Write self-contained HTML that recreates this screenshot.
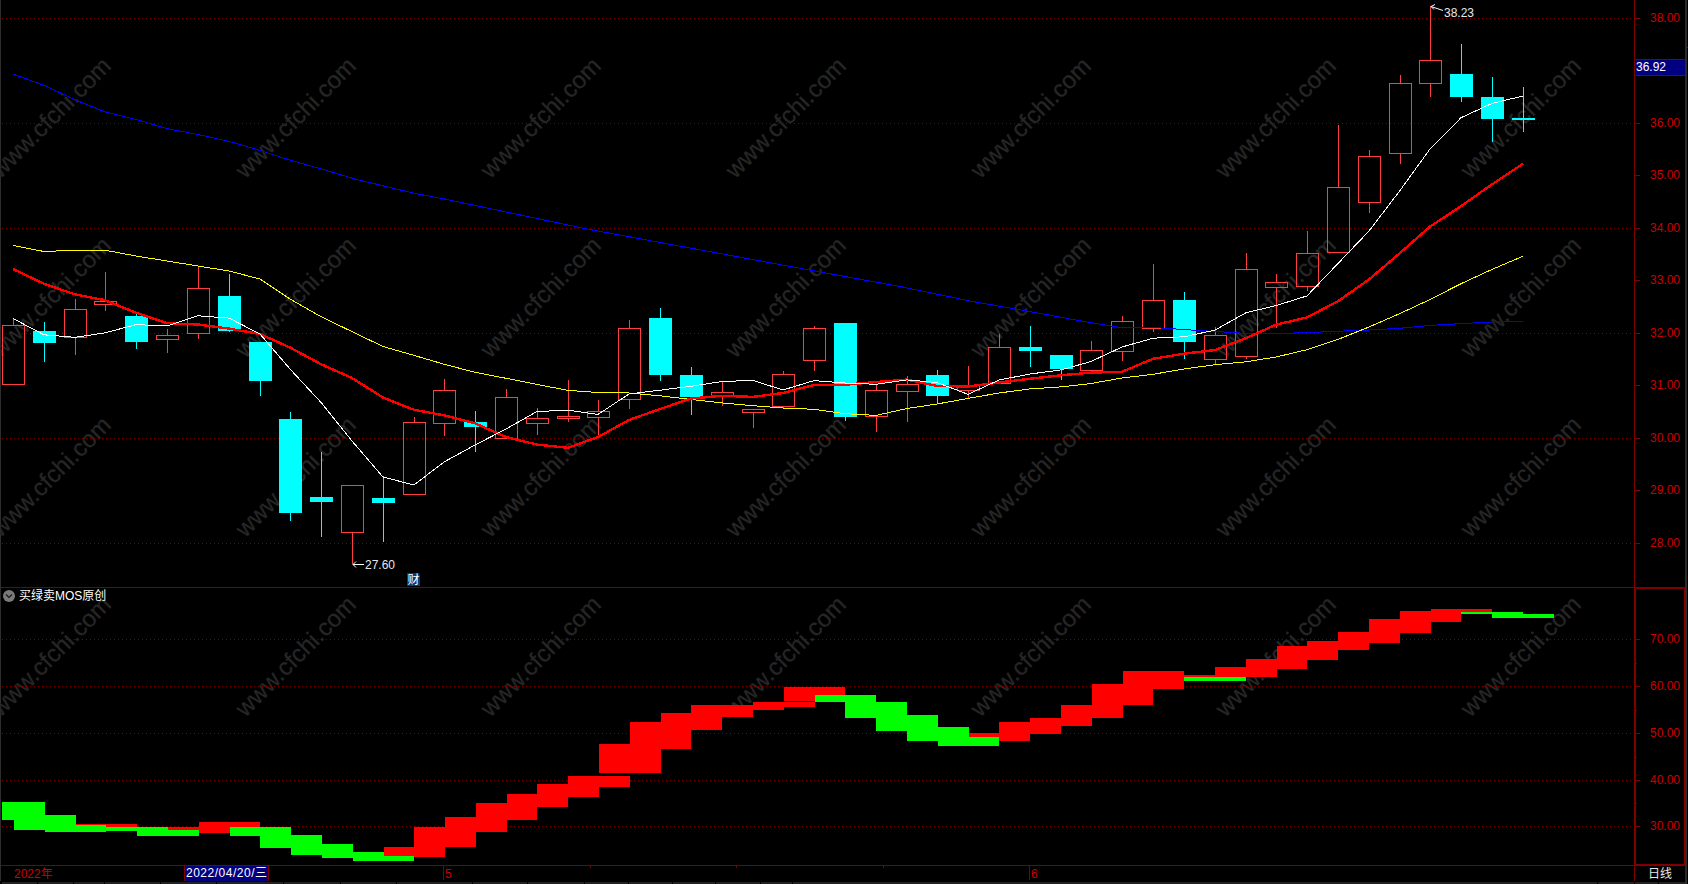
<!DOCTYPE html>
<html><head><meta charset="utf-8"><title>K线图</title>
<style>
html,body{margin:0;padding:0;background:#000;width:1688px;height:884px;overflow:hidden;}
#wrap{position:relative;width:1688px;height:884px;background:#000;overflow:hidden;}
svg{position:absolute;left:0;top:0;display:block;}
.t{font-family:"Liberation Sans","Noto Sans CJK SC",sans-serif;font-size:12px;}
</style></head><body><div id="wrap">
<svg width="1688" height="884" viewBox="0 0 1688 884">
<rect x="0" y="0" width="1" height="881" fill="#2e2e2e"/>
<rect x="1685" y="0" width="2" height="884" fill="#2a2a2a"/>
<rect x="1687" y="47" width="1" height="1" fill="#900000"/>
<g class="wm" fill="#262626" stroke="#262626" stroke-width="0.3" font-family="Liberation Sans, sans-serif" font-size="24px">
<text x="0.3" y="179.6" transform="rotate(-45 0.3 179.6)">www.cfchi.com</text>
<text x="245.3" y="179.6" transform="rotate(-45 245.3 179.6)">www.cfchi.com</text>
<text x="490.3" y="179.6" transform="rotate(-45 490.3 179.6)">www.cfchi.com</text>
<text x="735.3" y="179.6" transform="rotate(-45 735.3 179.6)">www.cfchi.com</text>
<text x="980.3" y="179.6" transform="rotate(-45 980.3 179.6)">www.cfchi.com</text>
<text x="1225.3" y="179.6" transform="rotate(-45 1225.3 179.6)">www.cfchi.com</text>
<text x="1470.3" y="179.6" transform="rotate(-45 1470.3 179.6)">www.cfchi.com</text>
<text x="0.3" y="359.1" transform="rotate(-45 0.3 359.1)">www.cfchi.com</text>
<text x="245.3" y="359.1" transform="rotate(-45 245.3 359.1)">www.cfchi.com</text>
<text x="490.3" y="359.1" transform="rotate(-45 490.3 359.1)">www.cfchi.com</text>
<text x="735.3" y="359.1" transform="rotate(-45 735.3 359.1)">www.cfchi.com</text>
<text x="980.3" y="359.1" transform="rotate(-45 980.3 359.1)">www.cfchi.com</text>
<text x="1225.3" y="359.1" transform="rotate(-45 1225.3 359.1)">www.cfchi.com</text>
<text x="1470.3" y="359.1" transform="rotate(-45 1470.3 359.1)">www.cfchi.com</text>
<text x="0.3" y="538.6" transform="rotate(-45 0.3 538.6)">www.cfchi.com</text>
<text x="245.3" y="538.6" transform="rotate(-45 245.3 538.6)">www.cfchi.com</text>
<text x="490.3" y="538.6" transform="rotate(-45 490.3 538.6)">www.cfchi.com</text>
<text x="735.3" y="538.6" transform="rotate(-45 735.3 538.6)">www.cfchi.com</text>
<text x="980.3" y="538.6" transform="rotate(-45 980.3 538.6)">www.cfchi.com</text>
<text x="1225.3" y="538.6" transform="rotate(-45 1225.3 538.6)">www.cfchi.com</text>
<text x="1470.3" y="538.6" transform="rotate(-45 1470.3 538.6)">www.cfchi.com</text>
<text x="0.3" y="718.1" transform="rotate(-45 0.3 718.1)">www.cfchi.com</text>
<text x="245.3" y="718.1" transform="rotate(-45 245.3 718.1)">www.cfchi.com</text>
<text x="490.3" y="718.1" transform="rotate(-45 490.3 718.1)">www.cfchi.com</text>
<text x="735.3" y="718.1" transform="rotate(-45 735.3 718.1)">www.cfchi.com</text>
<text x="980.3" y="718.1" transform="rotate(-45 980.3 718.1)">www.cfchi.com</text>
<text x="1225.3" y="718.1" transform="rotate(-45 1225.3 718.1)">www.cfchi.com</text>
<text x="1470.3" y="718.1" transform="rotate(-45 1470.3 718.1)">www.cfchi.com</text>
</g>
<g shape-rendering="crispEdges" stroke="#800000" stroke-width="1" stroke-dasharray="1 3">
<line x1="2" y1="18.5" x2="1633" y2="18.5"/>
<line x1="2" y1="123.5" x2="1633" y2="123.5"/>
<line x1="2" y1="228.5" x2="1633" y2="228.5"/>
<line x1="2" y1="333.5" x2="1633" y2="333.5"/>
<line x1="2" y1="438.5" x2="1633" y2="438.5"/>
<line x1="2" y1="543.5" x2="1633" y2="543.5"/>
<line x1="2" y1="639.5" x2="1633" y2="639.5"/>
<line x1="2" y1="686.5" x2="1633" y2="686.5"/>
<line x1="2" y1="733.5" x2="1633" y2="733.5"/>
<line x1="2" y1="780.5" x2="1633" y2="780.5"/>
<line x1="2" y1="826.5" x2="1633" y2="826.5"/>
</g>
<g shape-rendering="crispEdges">
<rect x="2" y="802" width="12" height="18" fill="#00ff00"/>
<rect x="14" y="802" width="31" height="28" fill="#00ff00"/>
<rect x="45" y="815" width="31" height="17" fill="#00ff00"/>
<rect x="76" y="824" width="30" height="1" fill="#ff0000"/>
<rect x="76" y="825" width="30" height="7" fill="#00ff00"/>
<rect x="106" y="824" width="31" height="3" fill="#ff0000"/>
<rect x="106" y="827" width="31" height="4" fill="#00ff00"/>
<rect x="137" y="827" width="31" height="9" fill="#00ff00"/>
<rect x="168" y="827" width="31" height="3" fill="#ff0000"/>
<rect x="168" y="830" width="31" height="6" fill="#00ff00"/>
<rect x="199" y="822" width="31" height="11" fill="#ff0000"/>
<rect x="230" y="822" width="30" height="5" fill="#ff0000"/>
<rect x="230" y="827" width="30" height="9" fill="#00ff00"/>
<rect x="260" y="827" width="31" height="21" fill="#00ff00"/>
<rect x="291" y="835" width="31" height="20" fill="#00ff00"/>
<rect x="322" y="844" width="31" height="14" fill="#00ff00"/>
<rect x="353" y="852" width="31" height="9" fill="#00ff00"/>
<rect x="384" y="847" width="30" height="9" fill="#ff0000"/>
<rect x="384" y="856" width="30" height="5" fill="#00ff00"/>
<rect x="414" y="827" width="31" height="30" fill="#ff0000"/>
<rect x="445" y="817" width="31" height="30" fill="#ff0000"/>
<rect x="476" y="803" width="31" height="29" fill="#ff0000"/>
<rect x="507" y="794" width="30" height="26" fill="#ff0000"/>
<rect x="537" y="784" width="31" height="23" fill="#ff0000"/>
<rect x="568" y="776" width="31" height="21" fill="#ff0000"/>
<rect x="599" y="744" width="31" height="29" fill="#ff0000"/>
<rect x="599" y="776" width="31" height="11" fill="#ff0000"/>
<rect x="630" y="722" width="31" height="51" fill="#ff0000"/>
<rect x="661" y="713" width="30" height="36" fill="#ff0000"/>
<rect x="691" y="705" width="31" height="25" fill="#ff0000"/>
<rect x="722" y="705" width="31" height="12" fill="#ff0000"/>
<rect x="753" y="702" width="31" height="8" fill="#ff0000"/>
<rect x="784" y="687" width="31" height="14" fill="#ff0000"/>
<rect x="784" y="702" width="31" height="5" fill="#ff0000"/>
<rect x="815" y="687" width="30" height="8" fill="#ff0000"/>
<rect x="815" y="695" width="30" height="7" fill="#00ff00"/>
<rect x="845" y="695" width="31" height="23" fill="#00ff00"/>
<rect x="876" y="702" width="31" height="29" fill="#00ff00"/>
<rect x="907" y="715" width="31" height="26" fill="#00ff00"/>
<rect x="938" y="727" width="31" height="19" fill="#00ff00"/>
<rect x="969" y="733" width="30" height="4" fill="#ff0000"/>
<rect x="969" y="737" width="30" height="9" fill="#00ff00"/>
<rect x="999" y="722" width="31" height="19" fill="#ff0000"/>
<rect x="1030" y="718" width="31" height="16" fill="#ff0000"/>
<rect x="1061" y="705" width="31" height="21" fill="#ff0000"/>
<rect x="1092" y="684" width="31" height="34" fill="#ff0000"/>
<rect x="1123" y="671" width="30" height="34" fill="#ff0000"/>
<rect x="1153" y="671" width="31" height="18" fill="#ff0000"/>
<rect x="1184" y="675" width="31" height="2" fill="#ff0000"/>
<rect x="1184" y="677" width="31" height="4" fill="#00ff00"/>
<rect x="1215" y="667" width="31" height="10" fill="#ff0000"/>
<rect x="1215" y="677" width="31" height="4" fill="#00ff00"/>
<rect x="1246" y="659" width="31" height="18" fill="#ff0000"/>
<rect x="1277" y="646" width="30" height="23" fill="#ff0000"/>
<rect x="1307" y="641" width="31" height="19" fill="#ff0000"/>
<rect x="1338" y="632" width="31" height="18" fill="#ff0000"/>
<rect x="1369" y="619" width="31" height="24" fill="#ff0000"/>
<rect x="1400" y="611" width="31" height="22" fill="#ff0000"/>
<rect x="1431" y="609" width="30" height="13" fill="#ff0000"/>
<rect x="1461" y="609" width="31" height="5" fill="#ff0000"/>
<rect x="1461" y="612" width="31" height="2" fill="#00ff00"/>
<rect x="1492" y="612" width="31" height="6" fill="#00ff00"/>
<rect x="1523" y="614" width="31" height="4" fill="#00ff00"/>
</g>
<g shape-rendering="crispEdges">
<rect x="13" y="318" width="1" height="7" fill="#ff3f3f"/>
<rect x="2.5" y="325.5" width="22" height="59" fill="none" stroke="#ff3f3f" stroke-width="1"/>
<rect x="44" y="322" width="1" height="40" fill="#00ffff"/>
<rect x="33" y="331" width="23" height="12" fill="#00ffff"/>
<rect x="75" y="299" width="1" height="10" fill="#ff3f3f"/>
<rect x="75" y="337" width="1" height="18" fill="#ff3f3f"/>
<rect x="64.5" y="309.5" width="22" height="28" fill="none" stroke="#ff3f3f" stroke-width="1"/>
<rect x="105" y="272" width="1" height="29" fill="#ff3f3f"/>
<rect x="105" y="304" width="1" height="7" fill="#ff3f3f"/>
<rect x="94.5" y="301.5" width="22" height="3" fill="none" stroke="#ff3f3f" stroke-width="1"/>
<rect x="136" y="314" width="1" height="35" fill="#00ffff"/>
<rect x="125" y="316" width="23" height="26" fill="#00ffff"/>
<rect x="167" y="329" width="1" height="6" fill="#ff3f3f"/>
<rect x="167" y="339" width="1" height="14" fill="#ff3f3f"/>
<rect x="156.5" y="335.5" width="22" height="4" fill="none" stroke="#ff3f3f" stroke-width="1"/>
<rect x="198" y="266" width="1" height="22" fill="#ff3f3f"/>
<rect x="198" y="333" width="1" height="6" fill="#ff3f3f"/>
<rect x="187.5" y="288.5" width="22" height="45" fill="none" stroke="#ff3f3f" stroke-width="1"/>
<rect x="229" y="274" width="1" height="58" fill="#00ffff"/>
<rect x="218" y="296" width="23" height="35" fill="#00ffff"/>
<rect x="260" y="342" width="1" height="54" fill="#00ffff"/>
<rect x="249" y="342" width="23" height="39" fill="#00ffff"/>
<rect x="290" y="412" width="1" height="109" fill="#00ffff"/>
<rect x="279" y="419" width="23" height="94" fill="#00ffff"/>
<rect x="321" y="452" width="1" height="85" fill="#00ffff"/>
<rect x="310" y="497" width="23" height="5" fill="#00ffff"/>
<rect x="352" y="532" width="1" height="32" fill="#ff3f3f"/>
<rect x="341.5" y="485.5" width="22" height="47" fill="none" stroke="#ff3f3f" stroke-width="1"/>
<rect x="383" y="476" width="1" height="66" fill="#00ffff"/>
<rect x="372" y="498" width="23" height="5" fill="#00ffff"/>
<rect x="414" y="417" width="1" height="5" fill="#ff3f3f"/>
<rect x="403.5" y="422.5" width="22" height="72" fill="none" stroke="#ff3f3f" stroke-width="1"/>
<rect x="444" y="379" width="1" height="11" fill="#ff3f3f"/>
<rect x="444" y="423" width="1" height="13" fill="#ff3f3f"/>
<rect x="433.5" y="390.5" width="22" height="33" fill="none" stroke="#ff3f3f" stroke-width="1"/>
<rect x="475" y="411" width="1" height="41" fill="#00ffff"/>
<rect x="464" y="422" width="23" height="5" fill="#00ffff"/>
<rect x="506" y="389" width="1" height="8" fill="#ff3f3f"/>
<rect x="495.5" y="397.5" width="22" height="41" fill="none" stroke="#ff3f3f" stroke-width="1"/>
<rect x="537" y="408" width="1" height="10" fill="#ff3f3f"/>
<rect x="537" y="423" width="1" height="12" fill="#ff3f3f"/>
<rect x="526.5" y="418.5" width="22" height="5" fill="none" stroke="#ff3f3f" stroke-width="1"/>
<rect x="568" y="380" width="1" height="36" fill="#ff3f3f"/>
<rect x="568" y="418" width="1" height="4" fill="#ff3f3f"/>
<rect x="557.5" y="416.5" width="22" height="2" fill="none" stroke="#ff3f3f" stroke-width="1"/>
<rect x="598" y="400" width="1" height="11" fill="#ff3f3f"/>
<rect x="598" y="417" width="1" height="19" fill="#ff3f3f"/>
<rect x="587.5" y="411.5" width="22" height="6" fill="none" stroke="#ff3f3f" stroke-width="1"/>
<rect x="629" y="320" width="1" height="8" fill="#ff3f3f"/>
<rect x="629" y="399" width="1" height="10" fill="#ff3f3f"/>
<rect x="618.5" y="328.5" width="22" height="71" fill="none" stroke="#ff3f3f" stroke-width="1"/>
<rect x="660" y="308" width="1" height="73" fill="#00ffff"/>
<rect x="649" y="318" width="23" height="57" fill="#00ffff"/>
<rect x="691" y="367" width="1" height="48" fill="#00ffff"/>
<rect x="680" y="375" width="23" height="22" fill="#00ffff"/>
<rect x="722" y="382" width="1" height="10" fill="#ff3f3f"/>
<rect x="722" y="395" width="1" height="11" fill="#ff3f3f"/>
<rect x="711.5" y="392.5" width="22" height="3" fill="none" stroke="#ff3f3f" stroke-width="1"/>
<rect x="753" y="412" width="1" height="16" fill="#ff3f3f"/>
<rect x="742.5" y="409.5" width="22" height="3" fill="none" stroke="#ff3f3f" stroke-width="1"/>
<rect x="783" y="371" width="1" height="3" fill="#ff3f3f"/>
<rect x="783" y="406" width="1" height="2" fill="#ff3f3f"/>
<rect x="772.5" y="374.5" width="22" height="32" fill="none" stroke="#ff3f3f" stroke-width="1"/>
<rect x="814" y="326" width="1" height="2" fill="#ff3f3f"/>
<rect x="814" y="360" width="1" height="11" fill="#ff3f3f"/>
<rect x="803.5" y="328.5" width="22" height="32" fill="none" stroke="#ff3f3f" stroke-width="1"/>
<rect x="845" y="323" width="1" height="98" fill="#00ffff"/>
<rect x="834" y="323" width="23" height="94" fill="#00ffff"/>
<rect x="876" y="384" width="1" height="6" fill="#ff3f3f"/>
<rect x="876" y="416" width="1" height="16" fill="#ff3f3f"/>
<rect x="865.5" y="390.5" width="22" height="26" fill="none" stroke="#ff3f3f" stroke-width="1"/>
<rect x="907" y="376" width="1" height="8" fill="#ff3f3f"/>
<rect x="907" y="391" width="1" height="31" fill="#ff3f3f"/>
<rect x="896.5" y="384.5" width="22" height="7" fill="none" stroke="#ff3f3f" stroke-width="1"/>
<rect x="937" y="370" width="1" height="33" fill="#00ffff"/>
<rect x="926" y="375" width="23" height="21" fill="#00ffff"/>
<rect x="968" y="366" width="1" height="19" fill="#ff3f3f"/>
<rect x="968" y="390" width="1" height="8" fill="#ff3f3f"/>
<rect x="957.5" y="385.5" width="22" height="5" fill="none" stroke="#ff3f3f" stroke-width="1"/>
<rect x="999" y="334" width="1" height="13" fill="#ff3f3f"/>
<rect x="988.5" y="347.5" width="22" height="36" fill="none" stroke="#ff3f3f" stroke-width="1"/>
<rect x="1030" y="326" width="1" height="41" fill="#00ffff"/>
<rect x="1019" y="347" width="23" height="4" fill="#00ffff"/>
<rect x="1061" y="355" width="1" height="25" fill="#00ffff"/>
<rect x="1050" y="355" width="23" height="14" fill="#00ffff"/>
<rect x="1091" y="341" width="1" height="9" fill="#ff3f3f"/>
<rect x="1080.5" y="350.5" width="22" height="20" fill="none" stroke="#ff3f3f" stroke-width="1"/>
<rect x="1122" y="316" width="1" height="5" fill="#ff3f3f"/>
<rect x="1122" y="351" width="1" height="10" fill="#ff3f3f"/>
<rect x="1111.5" y="321.5" width="22" height="30" fill="none" stroke="#ff3f3f" stroke-width="1"/>
<rect x="1153" y="264" width="1" height="36" fill="#ff3f3f"/>
<rect x="1153" y="328" width="1" height="4" fill="#ff3f3f"/>
<rect x="1142.5" y="300.5" width="22" height="28" fill="none" stroke="#ff3f3f" stroke-width="1"/>
<rect x="1184" y="292" width="1" height="67" fill="#00ffff"/>
<rect x="1173" y="300" width="23" height="42" fill="#00ffff"/>
<rect x="1215" y="327" width="1" height="8" fill="#ff3f3f"/>
<rect x="1215" y="359" width="1" height="5" fill="#ff3f3f"/>
<rect x="1204.5" y="335.5" width="22" height="24" fill="none" stroke="#ff3f3f" stroke-width="1"/>
<rect x="1246" y="253" width="1" height="16" fill="#ff3f3f"/>
<rect x="1246" y="356" width="1" height="3" fill="#ff3f3f"/>
<rect x="1235.5" y="269.5" width="22" height="87" fill="none" stroke="#ff3f3f" stroke-width="1"/>
<rect x="1276" y="274" width="1" height="8" fill="#ff3f3f"/>
<rect x="1276" y="287" width="1" height="41" fill="#ff3f3f"/>
<rect x="1265.5" y="282.5" width="22" height="5" fill="none" stroke="#ff3f3f" stroke-width="1"/>
<rect x="1307" y="231" width="1" height="22" fill="#ff3f3f"/>
<rect x="1307" y="286" width="1" height="5" fill="#ff3f3f"/>
<rect x="1296.5" y="253.5" width="22" height="33" fill="none" stroke="#ff3f3f" stroke-width="1"/>
<rect x="1338" y="125" width="1" height="62" fill="#ff3f3f"/>
<rect x="1327.5" y="187.5" width="22" height="65" fill="none" stroke="#ff3f3f" stroke-width="1"/>
<rect x="1369" y="150" width="1" height="6" fill="#ff3f3f"/>
<rect x="1369" y="202" width="1" height="11" fill="#ff3f3f"/>
<rect x="1358.5" y="156.5" width="22" height="46" fill="none" stroke="#ff3f3f" stroke-width="1"/>
<rect x="1400" y="75" width="1" height="8" fill="#ff3f3f"/>
<rect x="1400" y="153" width="1" height="11" fill="#ff3f3f"/>
<rect x="1389.5" y="83.5" width="22" height="70" fill="none" stroke="#ff3f3f" stroke-width="1"/>
<rect x="1430" y="6" width="1" height="54" fill="#ff3f3f"/>
<rect x="1430" y="83" width="1" height="14" fill="#ff3f3f"/>
<rect x="1419.5" y="60.5" width="22" height="23" fill="none" stroke="#ff3f3f" stroke-width="1"/>
<rect x="1461" y="44" width="1" height="58" fill="#00ffff"/>
<rect x="1450" y="74" width="23" height="23" fill="#00ffff"/>
<rect x="1492" y="77" width="1" height="65" fill="#00ffff"/>
<rect x="1481" y="97" width="23" height="22" fill="#00ffff"/>
<rect x="1523" y="87" width="1" height="45" fill="#00ffff"/>
<rect x="1512" y="118" width="23" height="2" fill="#00ffff"/>
</g>
<g shape-rendering="crispEdges">
<polyline points="13.5,74.3 44.5,85.5 75.5,100.0 105.5,112.0 136.5,119.5 167.5,128.8 198.5,134.6 229.5,141.5 260.5,150.6 290.5,160.3 321.5,169.0 352.5,178.3 383.5,186.0 414.5,193.3 444.5,199.0 585.5,228.7 791.5,266.7 900.5,286.6 971.5,301.3 1024.5,310.6 1078.5,320.5 1119.5,327.4 1160.5,328.0 1200.5,330.6 1246.5,333.4 1276.5,333.5 1307.5,332.6 1338.5,331.2 1369.5,330.0 1400.5,328.2 1430.5,325.4 1461.5,323.6 1492.5,322.0 1523.5,321.0" fill="none" stroke="#0000ff" stroke-width="1"/>
<polyline points="13,245.4 44,251.5 75,250.2 105,250.2 136,256.0 167,261.0 198,266.0 229,271.0 260,279.0 290,299.0 321,316.7 352,331.6 383,346.5 414,355.4 444,364.2 475,372.3 506,378.3 537,384.4 568,390.4 598,392.5 629,393.0 660,395.8 691,399.4 722,402.9 753,405.7 783,408.0 814,409.3 845,413.7 876,415.4 907,408.5 937,404.0 968,398.4 999,393.0 1030,388.9 1061,386.9 1091,383.5 1122,378.0 1153,374.3 1184,369.0 1215,364.7 1246,361.8 1276,357.0 1307,349.7 1338,339.4 1369,327.0 1400,313.5 1430,299.5 1461,283.7 1492,269.4 1523,256.2" fill="none" stroke="#ffff00" stroke-width="1" stroke-linejoin="round"/>
<polyline points="13,269.0 44,283.8 75,294.4 105,300.2 136,312.7 167,323.2 198,324.5 229,328.6 260,334.0 290,347.5 321,364.2 352,378.0 383,397.5 414,409.8 444,415.3 475,423.3 506,437.0 537,444.6 568,447.8 598,437.0 629,420.0 660,409.0 691,398.5 722,395.8 753,396.9 783,393.0 814,385.0 845,384.7 876,382.0 907,379.6 937,386.0 968,386.5 999,382.5 1030,378.7 1061,375.3 1091,372.6 1122,371.8 1153,358.8 1184,353.7 1215,350.0 1246,338.2 1276,324.7 1307,317.4 1338,301.2 1369,279.5 1400,253.0 1430,226.6 1461,206.3 1492,184.3 1523,163.7" fill="none" stroke="#ff0000" stroke-width="2.4" stroke-linejoin="round"/>
<polyline points="13,318.5 44,334.8 75,337.3 105,332.9 136,324.6 167,326.0 198,315.8 229,318.1 260,334.0 290,369.0 321,402.4 352,441.0 383,477.0 414,485.0 444,462.0 475,445.0 506,429.0 537,411.5 568,410.2 598,414.4 629,394.0 660,390.2 691,386.3 722,381.5 753,380.4 783,390.0 814,380.6 845,383.0 876,384.3 907,379.9 937,382.5 968,394.3 999,380.0 1030,374.0 1061,369.9 1091,361.5 1122,347.0 1153,338.2 1184,336.8 1215,330.1 1246,312.7 1276,305.6 1307,295.9 1338,263.5 1369,231.0 1400,190.5 1430,149.0 1461,117.7 1492,103.4 1523,96.0" fill="none" stroke="#ffffff" stroke-width="1" stroke-linejoin="round"/>
</g>
<g stroke="#ffffff" stroke-width="1" fill="none">
<line x1="1431" y1="6.5" x2="1443" y2="10.5"/>
<polyline points="1435,4.5 1431,6.5 1434,9.5"/>
<line x1="353" y1="564.5" x2="364" y2="564.5"/>
<polyline points="356,561.5 353,564.5 356,567.5"/>
</g>
<text class="t" x="1444" y="17" fill="#e8e8e8">38.23</text>
<text class="t" x="365" y="569" fill="#e8e8e8">27.60</text>
<path d="M407,573 H418 L420,575 V586 H407 Z" fill="#0a3a78"/>
<text x="407.5" y="584" fill="#ffffff" style="font-family:'Noto Sans CJK SC',sans-serif;font-size:12px">财</text>
<g shape-rendering="crispEdges">
<rect x="1" y="587" width="1634" height="1" fill="#800000"/>
<rect x="1634" y="0" width="1" height="588" fill="#800000"/>
<rect x="1635" y="18" width="5" height="1" fill="#800000"/>
<rect x="1635" y="70" width="5" height="1" fill="#800000"/>
<rect x="1635" y="123" width="5" height="1" fill="#800000"/>
<rect x="1635" y="175" width="5" height="1" fill="#800000"/>
<rect x="1635" y="228" width="5" height="1" fill="#800000"/>
<rect x="1635" y="280" width="5" height="1" fill="#800000"/>
<rect x="1635" y="333" width="5" height="1" fill="#800000"/>
<rect x="1635" y="385" width="5" height="1" fill="#800000"/>
<rect x="1635" y="438" width="5" height="1" fill="#800000"/>
<rect x="1635" y="490" width="5" height="1" fill="#800000"/>
<rect x="1635" y="543" width="5" height="1" fill="#800000"/>
<rect x="1634" y="587" width="51" height="2" fill="#800000"/>
<rect x="1634" y="587" width="2" height="279" fill="#800000"/>
<rect x="1684" y="587" width="1" height="279" fill="#800000"/>
<rect x="1634" y="864" width="51" height="2" fill="#800000"/>
<rect x="1636" y="639" width="4" height="1" fill="#800000"/>
<rect x="1636" y="686" width="4" height="1" fill="#800000"/>
<rect x="1636" y="733" width="4" height="1" fill="#800000"/>
<rect x="1636" y="780" width="4" height="1" fill="#800000"/>
<rect x="1636" y="826" width="4" height="1" fill="#800000"/>
<rect x="1636" y="663" width="1" height="1" fill="#800000"/>
<rect x="1636" y="710" width="1" height="1" fill="#800000"/>
<rect x="1636" y="757" width="1" height="1" fill="#800000"/>
<rect x="1636" y="803" width="1" height="1" fill="#800000"/>
<rect x="1" y="865" width="1684" height="1" fill="#800000"/>
<rect x="1634" y="866" width="1" height="15" fill="#800000"/>
<rect x="443" y="866" width="1" height="14" fill="#800000"/>
<rect x="1029" y="866" width="1" height="14" fill="#800000"/>
<rect x="590" y="866" width="1" height="2" fill="#800000"/>
<rect x="736" y="866" width="1" height="2" fill="#800000"/>
<rect x="883" y="866" width="1" height="2" fill="#800000"/>
</g>
<text class="t" x="1680" y="21.5" text-anchor="end" fill="#cc0000">38.00</text>
<text class="t" x="1680" y="126.5" text-anchor="end" fill="#cc0000">36.00</text>
<text class="t" x="1680" y="179.0" text-anchor="end" fill="#cc0000">35.00</text>
<text class="t" x="1680" y="231.5" text-anchor="end" fill="#cc0000">34.00</text>
<text class="t" x="1680" y="284.0" text-anchor="end" fill="#cc0000">33.00</text>
<text class="t" x="1680" y="336.5" text-anchor="end" fill="#cc0000">32.00</text>
<text class="t" x="1680" y="389.0" text-anchor="end" fill="#cc0000">31.00</text>
<text class="t" x="1680" y="441.5" text-anchor="end" fill="#cc0000">30.00</text>
<text class="t" x="1680" y="494.0" text-anchor="end" fill="#cc0000">29.00</text>
<text class="t" x="1680" y="546.5" text-anchor="end" fill="#cc0000">28.00</text>
<text class="t" x="1680" y="642.5" text-anchor="end" fill="#cc0000">70.00</text>
<text class="t" x="1680" y="689.5" text-anchor="end" fill="#cc0000">60.00</text>
<text class="t" x="1680" y="736.5" text-anchor="end" fill="#cc0000">50.00</text>
<text class="t" x="1680" y="783.5" text-anchor="end" fill="#cc0000">40.00</text>
<text class="t" x="1680" y="829.5" text-anchor="end" fill="#cc0000">30.00</text>
<rect x="1634" y="59" width="51" height="17" fill="#800000" shape-rendering="crispEdges"/>
<rect x="1635" y="60" width="50" height="15" fill="#000080" shape-rendering="crispEdges"/>
<text class="t" x="1636" y="70.5" fill="#ffffff">36.92</text>
<circle cx="9" cy="596" r="6" fill="#7a7a7a"/>
<polyline points="6,594.5 9,597.5 12,594.5" fill="none" stroke="#1a1a1a" stroke-width="1.2"/>
<text class="t" x="19" y="600" fill="#ffffff">买绿卖MOS原创</text>
<text class="t" x="14" y="878" fill="#cc0000">2022年</text>
<rect x="184" y="866" width="85" height="15" fill="#000080" shape-rendering="crispEdges"/>
<rect x="184" y="866" width="1" height="15" fill="#800000" shape-rendering="crispEdges"/>
<rect x="268" y="866" width="1" height="15" fill="#800000" shape-rendering="crispEdges"/>
<text class="t" x="186" y="877" fill="#ffffff" textLength="81" lengthAdjust="spacing">2022/04/20/三</text>
<text class="t" x="445" y="878" fill="#cc0000">5</text>
<text class="t" x="1031" y="878" fill="#cc0000">6</text>
<text class="t" x="1648" y="878" fill="#e8e8e8">日线</text>
<g shape-rendering="crispEdges">
<rect x="2" y="882" width="1683" height="2" fill="#222222"/>
<rect x="37" y="882" width="1" height="2" fill="#000"/>
<rect x="73" y="882" width="1" height="2" fill="#000"/>
<rect x="104" y="882" width="1" height="2" fill="#000"/>
<rect x="160" y="882" width="1" height="2" fill="#000"/>
<rect x="216" y="882" width="1" height="2" fill="#000"/>
<rect x="283" y="882" width="1" height="2" fill="#000"/>
<rect x="340" y="882" width="1" height="2" fill="#000"/>
<rect x="396" y="882" width="1" height="2" fill="#000"/>
<rect x="472" y="882" width="1" height="2" fill="#000"/>
<rect x="527" y="882" width="1" height="2" fill="#000"/>
<rect x="584" y="882" width="1" height="2" fill="#000"/>
<rect x="628" y="882" width="1" height="2" fill="#000"/>
<rect x="672" y="882" width="1" height="2" fill="#000"/>
<rect x="715" y="882" width="1" height="2" fill="#000"/>
<rect x="760" y="882" width="1" height="2" fill="#000"/>
<rect x="792" y="882" width="1" height="2" fill="#000"/>
<rect x="1597" y="882" width="1" height="2" fill="#000"/>
<rect x="1634" y="882" width="1" height="2" fill="#000"/>
<rect x="1658" y="882" width="1" height="2" fill="#000"/>
</g>
</svg></div></body></html>
